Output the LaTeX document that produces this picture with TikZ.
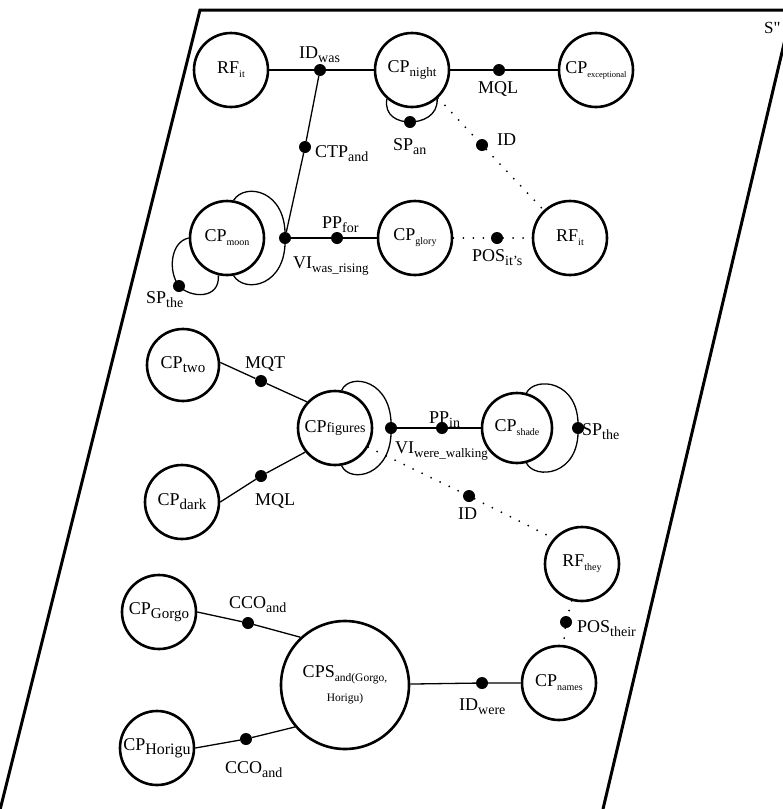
\documentclass[tikz,border=0pt]{standalone}
\usepackage{fontspec}
\setmainfont{Liberation Serif}
\newfontfamily\nomap[Ligatures=ResetAll]{Liberation Serif}
\newcommand\msub[2][14]{\raisebox{-4pt}{\fontsize{#1}{#1}\selectfont #2}}
\newcommand\ssub[2][10]{\raisebox{-4pt}{\fontsize{#1}{#1}\selectfont #2}}
\tikzset{
  cnode/.style={circle, draw, line width=2.6pt, minimum size=74pt, inner sep=0pt, font=\fontsize{18}{20}\selectfont},
  dot/.style={circle, fill, inner sep=0pt, minimum size=12pt},
  lbl/.style={anchor=base west, inner sep=0pt, font=\fontsize{18}{20}\selectfont},
  conn/.style={line width=1.3pt},
  dotline/.style={line width=2pt, line cap=round, dash pattern=on 0pt off 10pt},
}
\begin{document}
\begin{tikzpicture}[x=1pt,y=1pt]
\useasboundingbox (0,0) rectangle (783,-809);
\draw[line width=3pt] (0.25,-809) -- (200,-10) -- (792,-10) -- (603,-809);
\node[lbl, font=\fontsize{17}{17}\selectfont] (lS) at (764,-33) {\nomap S"};

% top section
\node[cnode] (rfa) at (231,-70) {RF\ssub{it}};
\node[dot] (idwas) at (320,-70) {};
\node[cnode] (cpnight) at (412,-70) {CP\msub[13]{night}};
\node[dot] (mqla) at (499,-70) {};
\node[cnode] (cpexc) at (596,-70) {CP\ssub[8.5]{exceptional}};
\node[dot] (span) at (410,-122) {};
\node[dot] (ida) at (482,-145) {};
\node[dot] (ctp) at (305,-147) {};
\node[cnode] (cpmoon) at (227,-238) {CP\ssub{moon}};
\node[dot] (via) at (285,-238) {};
\node[dot] (ppfor) at (337,-238) {};
\node[cnode] (cpglory) at (415,-238) {CP\ssub{glory}};
\node[dot] (posa) at (497,-238) {};
\node[cnode] (rfb) at (570,-238) {RF\ssub{it}};
\node[dot] (spthea) at (179,-286) {};

% middle section
\node[cnode, minimum size=72pt] (cptwo) at (183,-365) {CP\msub[15]{two}};
\node[dot] (mqt) at (261,-381) {};
\node[cnode] (cpfig) at (335,-428) {CP{\fontsize{14}{14}\selectfont figures}};
\node[cnode] (cpdark) at (182,-502) {CP\msub[15]{dark}};
\node[dot] (mqlb) at (261,-476) {};
\node[dot] (vib) at (391,-428) {};
\node[dot] (ppin) at (442,-428) {};
\node[cnode, minimum size=70pt] (cpshade) at (517,-428) {CP\ssub{shade}};
\node[dot] (sptheb) at (578,-428) {};
\node[dot] (idb) at (469,-496) {};

% bottom section
\node[cnode] (rfthey) at (582,-564) {RF\ssub{they}};
\node[dot] (posb) at (566,-622) {};
\node[cnode] (cpnames) at (559,-683) {CP\ssub{names}};
\node[dot] (idwere) at (482,-683) {};
\node[cnode, minimum size=128pt, align=center] (cps) at (345,-685) {CPS\msub[11.5]{and(Gorgo,}\\[4pt]{\fontsize{11.5}{12}\selectfont Horigu)}};
\node[cnode] (cpgorgo) at (159,-612) {CP\msub[15]{Gorgo}};
\node[dot] (ccoa) at (248,-623) {};
\node[cnode] (cphorigu) at (157,-748) {CP\msub[16]{Horigu}};
\node[dot] (ccob) at (246,-739) {};

% labels
\node[lbl] (lidwas) at (299,-58) {ID\msub{was}};
\node[lbl] (lmqla) at (478,-93) {MQL};
\node[lbl] (lspan) at (393,-150) {SP\msub{an}};
\node[lbl] (lida) at (497,-145) {ID};
\node[lbl] (lctp) at (315,-157) {CTP\msub{and}};
\node[lbl] (lppfor) at (322,-228) {PP\msub{for}};
\node[lbl] (lvia) at (293,-268) {VI\msub[13]{was\_rising}};
\node[lbl] (lposa) at (472,-261) {POS\msub{it's}};
\node[lbl] (lspthea) at (146,-303) {SP\msub{the}};
\node[lbl] (lmqt) at (245,-368) {MQT};
\node[lbl] (lmqlb) at (255,-505) {MQL};
\node[lbl] (lppin) at (429,-423) {PP\msub{in}};
\node[lbl] (lvib) at (395,-453) {VI\msub[13]{were\_walking}};
\node[lbl] (lsptheb) at (582,-435) {SP\msub{the}};
\node[lbl] (lidb) at (458,-519) {ID};
\node[lbl] (lposb) at (577,-632) {POS\msub{their}};
\node[lbl] (lidwere) at (459,-710) {ID\msub{were}};
\node[lbl] (lccoa) at (229,-608) {CCO\msub{and}};
\node[lbl] (lccob) at (225,-773) {CCO\msub{and}};

% connectors top
\draw[conn] (rfa) -- (idwas) -- (cpnight);
\draw[conn] (cpnight) -- (mqla) -- (cpexc);
\draw[conn] (idwas) -- (ctp) -- (via);
\draw[conn] (via) -- (ppfor) -- (cpglory);
\draw[dotline] (cpglory) -- (posa) -- (rfb);
\draw[dotline] (cpnight) -- (ida) -- (rfb);
\draw[conn] (cpnight.-131) .. controls (384,-116) and (398,-122) .. (span.center)
  .. controls (422,-122) and (438,-116) .. (cpnight.-49);
\draw[conn] (cpmoon.80) .. controls (245,-182) and (287,-190) .. (via.center)
  .. controls (287,-286) and (245,-294) .. (cpmoon.-80);
\draw[conn] (cpmoon.180) .. controls (170,-242) and (168,-272) .. (spthea.center)
  .. controls (190,-298) and (220,-300) .. (cpmoon.-103);

% connectors middle
\draw[conn] (cptwo.4) -- (mqt) -- (cpfig.137);
\draw[conn] (cpdark.0) -- (mqlb) -- (cpfig.219);
\draw[conn] (vib) -- (ppin) -- (cpshade);
\draw[conn] (cpfig.80) .. controls (350,-372) and (393,-380) .. (vib.center)
  .. controls (393,-476) and (350,-484) .. (cpfig.-80);
\draw[conn] (cpshade.75) .. controls (535,-376) and (580,-380) .. (sptheb.center)
  .. controls (580,-476) and (535,-480) .. (cpshade.-75);
\draw[dotline] (cpfig.-30) -- (idb) -- (rfthey.138);

% connectors bottom
\draw[dotline] (rfthey) -- (posb) -- (cpnames);
\draw[conn] (cps) -- (idwere) -- (cpnames);
\draw[conn] (cpgorgo.0) -- (ccoa) -- (cps.133);
\draw[conn] (cphorigu.0) -- (ccob) -- (cps.220);
\end{tikzpicture}
\end{document}
